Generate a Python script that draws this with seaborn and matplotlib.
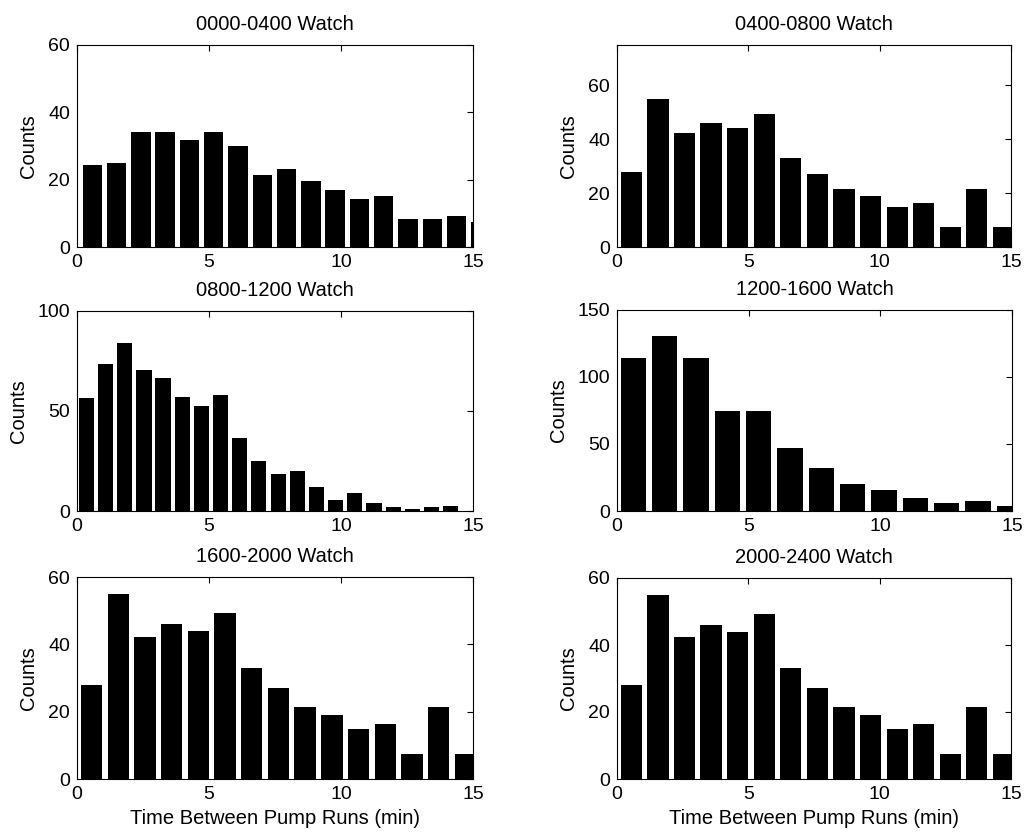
import matplotlib
matplotlib.use("Agg")
import matplotlib.pyplot as plt
import seaborn as sns
import pandas as pd

sns.set_theme(style="white")
plt.rcParams['font.family'] = ['Liberation Sans', 'DejaVu Sans']

# ---- data ----
titles = ["0000-0400 Watch", "0400-0800 Watch", "0800-1200 Watch",
          "1200-1600 Watch", "1600-2000 Watch", "2000-2400 Watch"]

w1_centers = [0.58, 1.50, 2.42, 3.34, 4.26, 5.18, 6.10, 7.02, 7.94, 8.86,
              9.78, 10.70, 11.62, 12.54, 13.46, 14.38, 15.30]
w1_counts = [24.3, 25, 34.2, 34.2, 31.9, 34.2, 30.1, 21.3, 23.1, 19.7,
             17, 14.4, 15.1, 8.3, 8.3, 9.1, 7.4]

w2_centers = [0.55, 1.56, 2.57, 3.58, 4.60, 5.61, 6.62, 7.63, 8.64, 9.66,
              10.67, 11.68, 12.69, 13.70, 14.72]
w2_counts = [28, 55, 42.3, 46, 44, 49.2, 33, 27.1, 21.4, 19, 15, 16.3,
             7.4, 21.4, 7.4]

w3_centers = [0.36, 1.09, 1.81, 2.54, 3.26, 3.99, 4.72, 5.44, 6.17, 6.89,
              7.62, 8.35, 9.07, 9.80, 10.52, 11.25, 11.98, 12.70, 13.43, 14.15]
w3_counts = [56.5, 73.5, 83.8, 70.5, 66.5, 57, 52.5, 57.8, 36.7, 25.2,
             18.3, 19.8, 12, 5.7, 8.8, 4, 1.8, 1.2, 1.8, 2.7]

w4_centers = [0.62, 1.81, 3.00, 4.19, 5.38, 6.57, 7.76, 8.95, 10.14,
              11.33, 12.52, 13.71, 14.90]
w4_counts = [114.4, 130.6, 114.4, 74.9, 74.9, 47.3, 31.8, 20.4, 15.7,
             9.5, 6.2, 7.7, 3.7]

w5_centers = w2_centers
w5_counts = w2_counts
w6_centers = w2_centers
w6_counts = w2_counts

ylims = [60, 75, 100, 150, 60, 60]
yticks = [[0, 20, 40, 60], [0, 20, 40, 60], [0, 50, 100],
          [0, 50, 100, 150], [0, 20, 40, 60], [0, 20, 40, 60]]
xticks = [0, 5, 10, 15]
xlabel = "Time Between Pump Runs (min)"
ylabel = "Counts"

series = [(w1_centers, w1_counts), (w2_centers, w2_counts),
          (w3_centers, w3_counts), (w4_centers, w4_counts),
          (w5_centers, w5_counts), (w6_centers, w6_counts)]

# ---- layout (pixel boxes in a 1024x834 figure) ----
W, H = 1024, 834
boxes = [(77, 45, 473, 247), (617, 45, 1011, 247),
         (77, 311, 473, 511), (617, 310, 1012, 511),
         (77, 577, 473, 779), (617, 578, 1011, 779)]

fig = plt.figure(figsize=(W / 100, H / 100), dpi=100)
fig.patch.set_facecolor("white")

for i, ((x0, y0, x1, y1), (cx, cy)) in enumerate(zip(boxes, series)):
    ax = fig.add_axes([x0 / W, 1 - y1 / H, (x1 - x0) / W, (y1 - y0) / H])
    df = pd.DataFrame({"t": cx, "n": cy})
    sns.barplot(data=df, x="t", y="n", native_scale=True, width=0.8,
                color="black", saturation=1, linewidth=0, errorbar=None, ax=ax)
    ax.set_xlim(0, 15)
    ax.set_ylim(0, ylims[i])
    ax.set_xticks(xticks)
    ax.set_xticklabels([str(v) for v in xticks])
    ax.set_yticks(yticks[i])
    ax.set_yticklabels([str(v) for v in yticks[i]])
    ax.tick_params(direction="in", top=True, right=True, length=4,
                   width=0.8, labelsize=14, pad=5, color="black",
                   labelcolor="black")
    for s in ax.spines.values():
        s.set_visible(True)
        s.set_color("black")
        s.set_linewidth(0.8)
    ax.set_title(titles[i], fontsize=14.5, pad=11, color="black")
    ax.set_ylabel(ylabel, fontsize=14.5, labelpad=7, color="black")
    if i >= 4:
        ax.set_xlabel(xlabel, fontsize=14.5, labelpad=4, color="black")
    else:
        ax.set_xlabel("")
    ax.set_facecolor("white")

fig.savefig("out.png", dpi=100, facecolor="white")
